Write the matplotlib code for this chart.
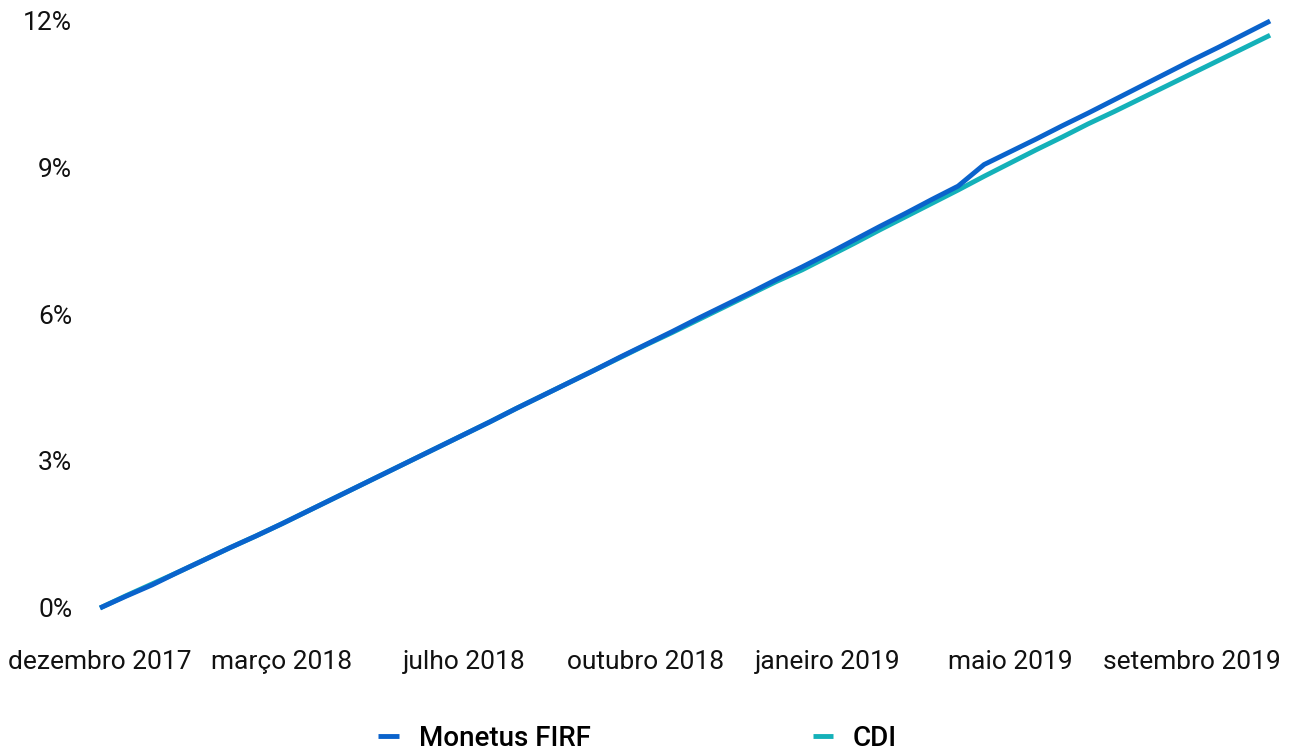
import matplotlib
matplotlib.use("Agg")
import matplotlib.pyplot as plt
import numpy as np

# retorno acumulado (%), um ponto a cada ~10 dias uteis
monetus = [0.00, 0.24, 0.47, 0.73, 0.98, 1.23, 1.47, 1.72, 1.98, 2.24,
           2.50, 2.76, 3.02, 3.28, 3.54, 3.80, 4.07, 4.33, 4.59, 4.85,
           5.12, 5.38, 5.64, 5.91, 6.17, 6.43, 6.70, 6.96, 7.23, 7.51,
           7.79, 8.06, 8.34, 8.61, 9.05, 9.31, 9.57, 9.84, 10.10, 10.37,
           10.64, 10.91, 11.18, 11.44, 11.71, 11.98]
cdi = [0.00, 0.25, 0.49, 0.73, 0.98, 1.23, 1.47, 1.72, 1.98, 2.24,
       2.50, 2.76, 3.02, 3.28, 3.54, 3.80, 4.07, 4.33, 4.59, 4.85,
       5.11, 5.37, 5.62, 5.88, 6.14, 6.40, 6.66, 6.90, 7.17, 7.44,
       7.72, 7.99, 8.26, 8.53, 8.81, 9.08, 9.35, 9.61, 9.88, 10.13,
       10.39, 10.65, 10.91, 11.17, 11.43, 11.69]

tick_labels = ["dezembro 2017", "março 2018", "julho 2018", "outubro 2018",
               "janeiro 2019", "maio 2019", "setembro 2019"]
y_ticks = [0, 3, 6, 9, 12]

plt.rcParams["font.family"] = ["Roboto", "DejaVu Sans"]

fig = plt.figure(figsize=(13.04, 7.53), dpi=100)
ax = fig.add_axes([0.0767, 0.1926, 0.974 - 0.0767, 0.9734 - 0.1926])

x = np.arange(len(monetus))
ax.plot(x, cdi, color="#14b1b9", lw=3.5, label="CDI", clip_on=False,
        solid_capstyle="butt")
ax.plot(x, monetus, color="#0a63cc", lw=3.5, label="Monetus FIRF",
        clip_on=False, solid_capstyle="butt")

ax.set_xlim(0, len(monetus) - 1)
ax.set_ylim(0, 12)
ax.set_xticks(np.arange(0, len(monetus), 7))
ax.set_xticklabels(tick_labels)
ax.set_yticks(y_ticks)
ax.set_yticklabels([f"{v}%" for v in y_ticks])
ax.tick_params(axis="both", length=0, labelsize=19, colors="#111111")
ax.tick_params(axis="x", pad=30)
ax.tick_params(axis="y", pad=20)
for s in ax.spines.values():
    s.set_visible(False)

handles, labels = ax.get_legend_handles_labels()
leg = fig.legend(handles[::-1], labels[::-1], loc="center",
                 bbox_to_anchor=(0.489, 0.019), ncol=2, frameon=False,
                 handlelength=0.75, handletextpad=0.7,
                 columnspacing=8.0, prop={"weight": "medium", "size": 20})

fig.savefig("out.png", dpi=100)
